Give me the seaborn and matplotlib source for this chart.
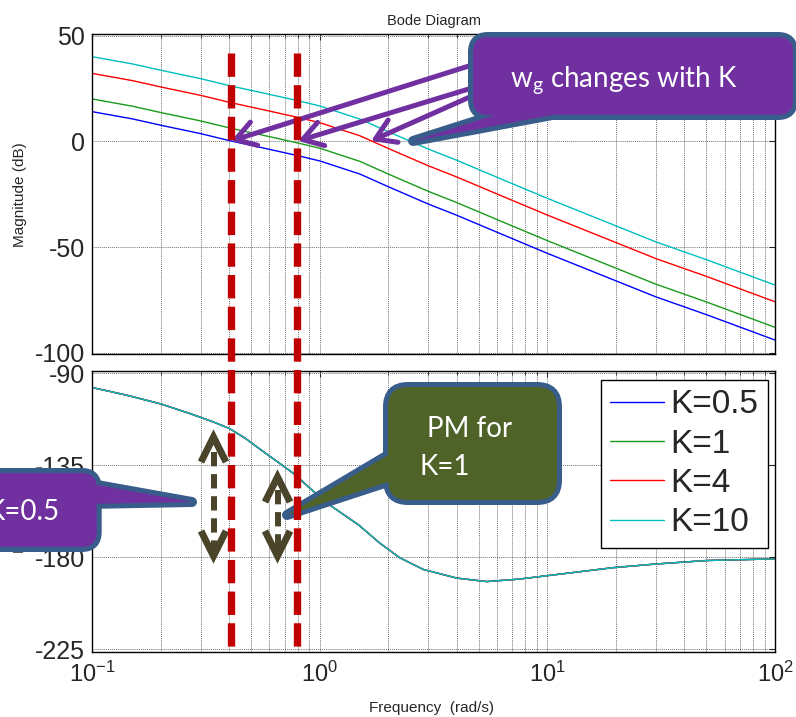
import numpy as np
import pandas as pd
import matplotlib
matplotlib.use("Agg")
import matplotlib.pyplot as plt
import seaborn as sns
from matplotlib.patches import FancyBboxPatch, Polygon, FancyArrowPatch
from matplotlib.lines import Line2D
from matplotlib.transforms import Affine2D, blended_transform_factory
from matplotlib.ticker import LogLocator, NullFormatter, FixedLocator

# ---------------- data ----------------
freq_mag = [0.1, 0.15, 0.2, 0.3, 0.405, 0.6, 0.8, 1.0, 1.5, 2.0, 3.0, 4.0, 6.0, 10.0, 20.0, 30.0, 50.0, 100.0]
mag_k05 = [14.0, 10.6, 7.6, 3.6, 0.2, -3.8, -6.8, -9.3, -15.5, -21.5, -29.7, -35.0, -43.0, -53.0, -66.0, -73.6, -82.0, -94.0]
mag_k1 = [20.0, 16.6, 13.6, 9.6, 6.2, 2.2, -0.8, -3.3, -9.5, -15.5, -23.7, -29.0, -37.0, -47.0, -60.0, -67.6, -76.0, -88.0]
mag_k4 = [32.1, 28.7, 25.7, 21.7, 18.3, 14.3, 11.3, 8.8, 2.6, -3.4, -11.6, -16.9, -24.9, -34.9, -47.9, -55.5, -63.9, -75.9]
mag_k10 = [40.0, 36.6, 33.6, 29.6, 26.2, 22.2, 19.2, 16.7, 10.5, 4.5, -3.7, -9.0, -17.0, -27.0, -40.0, -47.6, -56.0, -68.0]
freq_phase = [0.1, 0.14, 0.2, 0.27, 0.34, 0.4, 0.47, 0.575, 0.68, 0.78, 0.92, 1.13, 1.48, 1.83,
              2.24, 2.85, 4.0, 5.4, 7.5, 10.0, 19.4, 30.0, 50.0, 100.0]
phase_deg = [-97.0, -100.6, -105.0, -109.8, -113.8, -117.0, -121.8, -129.0, -134.8, -139.7, -147.0, -155.2,
             -164.2, -173.0, -180.2, -186.0, -190.2, -191.9, -190.7, -189.0, -185.1, -183.3, -181.6, -180.8]
k_labels = ["K=0.5", "K=1", "K=4", "K=10"]
line_colors = ["#0000FF", "#1A9A1A", "#FF0000", "#00BFBF"]
mag_ticks = [50, 0, -50, -100]
phase_ticks = [-90, -135, -180, -225]
freq_ticks = [0.1, 1, 10, 100]
wg_k05 = 0.405   # gain crossover for K=0.5
wg_k1 = 0.792    # gain crossover for K=1

mags = [mag_k05, mag_k1, mag_k4, mag_k10]
df_mag = pd.concat([pd.DataFrame({"freq": freq_mag, "mag": m, "K": lab})
                    for m, lab in zip(mags, k_labels)], ignore_index=True)
df_phase = pd.concat([pd.DataFrame({"freq": freq_phase, "phase": phase_deg, "K": lab})
                      for lab in k_labels], ignore_index=True)

# ---------------- style ----------------
sns.set_style("white")
plt.rcParams["font.family"] = ["Liberation Sans", "DejaVu Sans"]
plt.rcParams["axes.unicode_minus"] = False
plt.rcParams["mathtext.fontset"] = "custom"
plt.rcParams["mathtext.rm"] = "Liberation Sans"
plt.rcParams["mathtext.it"] = "Liberation Sans:italic"
plt.rcParams["mathtext.bf"] = "Liberation Sans:bold"

W, H, DPI = 796, 717, 100
fig = plt.figure(figsize=(W / DPI, H / DPI), dpi=DPI)
fig.patch.set_facecolor("white")
# pixel transform (x right, y down from top)
T = Affine2D().scale(1, -1).translate(0, H) + Affine2D().scale(1 / DPI) + fig.dpi_scale_trans

L, R = 92.3, 775.0
ax1 = fig.add_axes([L / W, 1 - 354.0 / H, (R - L) / W, (354.0 - 34.3) / H])
ax2 = fig.add_axes([L / W, 1 - 651.7 / H, (R - L) / W, (651.7 - 371.0) / H])

pal = dict(zip(k_labels, line_colors))
sns.lineplot(data=df_mag, x="freq", y="mag", hue="K", hue_order=k_labels, palette=pal,
             ax=ax1, legend=False, lw=1.0, estimator=None, sort=True)
sns.lineplot(data=df_phase, x="freq", y="phase", hue="K", hue_order=k_labels, palette=pal,
             ax=ax2, legend=False, lw=1.0, estimator=None, sort=True)

for ax in (ax1, ax2):
    ax.set_xscale("log")
    ax.set_xlim(0.1, 100)
    ax.xaxis.set_major_locator(FixedLocator(freq_ticks))
    ax.xaxis.set_minor_locator(LogLocator(base=10, subs=np.arange(2, 10)))
    ax.xaxis.set_minor_formatter(NullFormatter())
    ax.grid(True, which="both", axis="x", ls=(0, (1, 1)), color="0.45", lw=0.7)
    ax.grid(True, which="major", axis="y", ls=(0, (1, 1)), color="0.45", lw=0.7)
    ax.tick_params(which="both", direction="in", top=True, right=True, labelsize=18, pad=5)
    ax.tick_params(which="major", length=4, width=0.8)
    ax.tick_params(which="minor", length=3, width=0.6)
    for s in ax.spines.values():
        s.set_visible(True)
        s.set_color("black")
        s.set_linewidth(1.0)
    ax.set_xlabel("")

ax1.set_ylim(-100.6, 50.6)
ax1.set_yticks(mag_ticks)
ax1.tick_params(axis="x", labelbottom=False)
ax2.set_ylim(-226.2, -88.9)
ax2.set_yticks(phase_ticks)
ax2.tick_params(axis="x", pad=7, labelsize=17)

ax1.set_title("Bode Diagram", fontsize=10.5, pad=7)
ax1.set_ylabel("Magnitude (dB)", fontsize=11)
ax1.yaxis.set_label_coords((27 - L) / (R - L), 0.5)
ax2.set_ylabel("Phase (deg)", fontsize=11)
ax2.yaxis.set_label_coords((27 - L) / (R - L), 0.5)
fig.text(431 / W, 1 - 712 / H, "Frequency  (rad/s)", fontsize=11, ha="center", va="baseline")

leg = ax2.legend(ax2.lines[:4], k_labels, loc="upper right", bbox_to_anchor=(767.7, 380),
                 bbox_transform=T, borderaxespad=0, fontsize=24, frameon=True,
                 fancybox=False, framealpha=1, edgecolor="black", borderpad=0.28,
                 handlelength=1.6, handletextpad=0.2, labelspacing=0.25)
leg.get_frame().set_linewidth(1.0)

# ---------------- annotations (figure pixel coordinates) ----------------
EDGE = "#385D8A"


def callout(x0, y0, x1, y1, r, tail, fc, z=6):
    for lw, zz in ((7.2, z), (0, z + 0.5)):
        b = FancyBboxPatch((x0, y0), x1 - x0, y1 - y0,
                           boxstyle=f"round,pad=0,rounding_size={r}",
                           transform=T, fc=fc, ec=EDGE if lw else "none", lw=lw, zorder=zz)
        p = Polygon(tail, closed=True, transform=T, fc=fc,
                    ec=EDGE if lw else "none", lw=lw, joinstyle="round", zorder=zz)
        fig.add_artist(b)
        fig.add_artist(p)


# purple arrows to the gain crossover points
for start, end in (((472, 65), (231, 141)), ((472, 88), (298, 141)), ((472, 96), (371, 141))):
    a = FancyArrowPatch(start, end, transform=T, arrowstyle="->,head_length=0.4,head_width=0.25",
                        mutation_scale=35, lw=3.6, color="#7030A0", shrinkA=0, shrinkB=0, zorder=5)
    fig.add_artist(a)

callout(473, 37, 793, 115, 15, [(526, 105), (413, 141), (606, 105)], "#7030A0")
fig.text(624 / W, 1 - 87 / H, r"w$_\mathregular{g}$ changes with K", family="Lato",
         fontsize=20, color="white", ha="center", va="baseline", zorder=8)

callout(388, 387, 557, 500, 20, [(400, 448), (287, 515), (400, 478)], "#4F6228")
fig.text(427 / W, 1 - 437 / H, "PM for", family="Lato", fontsize=20, color="white",
         ha="left", va="baseline", zorder=8)
fig.text(419 / W, 1 - 475 / H, "K=1", family="Lato", fontsize=20, color="white",
         ha="left", va="baseline", zorder=8)

callout(-30, 473, 96.7, 547, 15, [(86, 483), (192, 502), (86, 504)], "#7030A0")
fig.text(60 / W, 1 - 520 / H, "K=0.5", family="Lato", fontsize=20, color="white",
         ha="right", va="baseline", zorder=8)

# dark dashed double arrows (phase margins)
DARK = "#4A452A"


def double_arrow(x, yt, yb, s0, s1):
    fig.add_artist(Line2D([x, x], [s0, s1], transform=T, color="white", lw=6.5, zorder=3))
    fig.add_artist(Line2D([x, x], [s0, s1], transform=T, color=DARK, lw=4.3,
                          linestyle=(0, (2.4, 1.3)), zorder=3.1))
    for tip, sgn in ((yt, 1), (yb, -1)):
        fig.add_artist(Line2D([x - 12.5, x, x + 12.5], [tip + sgn * 25, tip, tip + sgn * 25],
                              transform=T, color=DARK, lw=5.0, solid_joinstyle="miter",
                              solid_capstyle="butt", zorder=3.2))


double_arrow(213.5, 437, 556, 452, 553)
double_arrow(277.5, 477, 556, 490, 553)

# red dashed verticals at the crossover frequencies
blend = blended_transform_factory(ax2.transData, T)
for wx in (wg_k05, wg_k1):
    fig.add_artist(Line2D([wx, wx], [53, 653], transform=blend, color="#C00000", lw=5.3,
                          linestyle=(0, (3.17, 1.13)), zorder=9))

fig.savefig("out.png", dpi=DPI)
